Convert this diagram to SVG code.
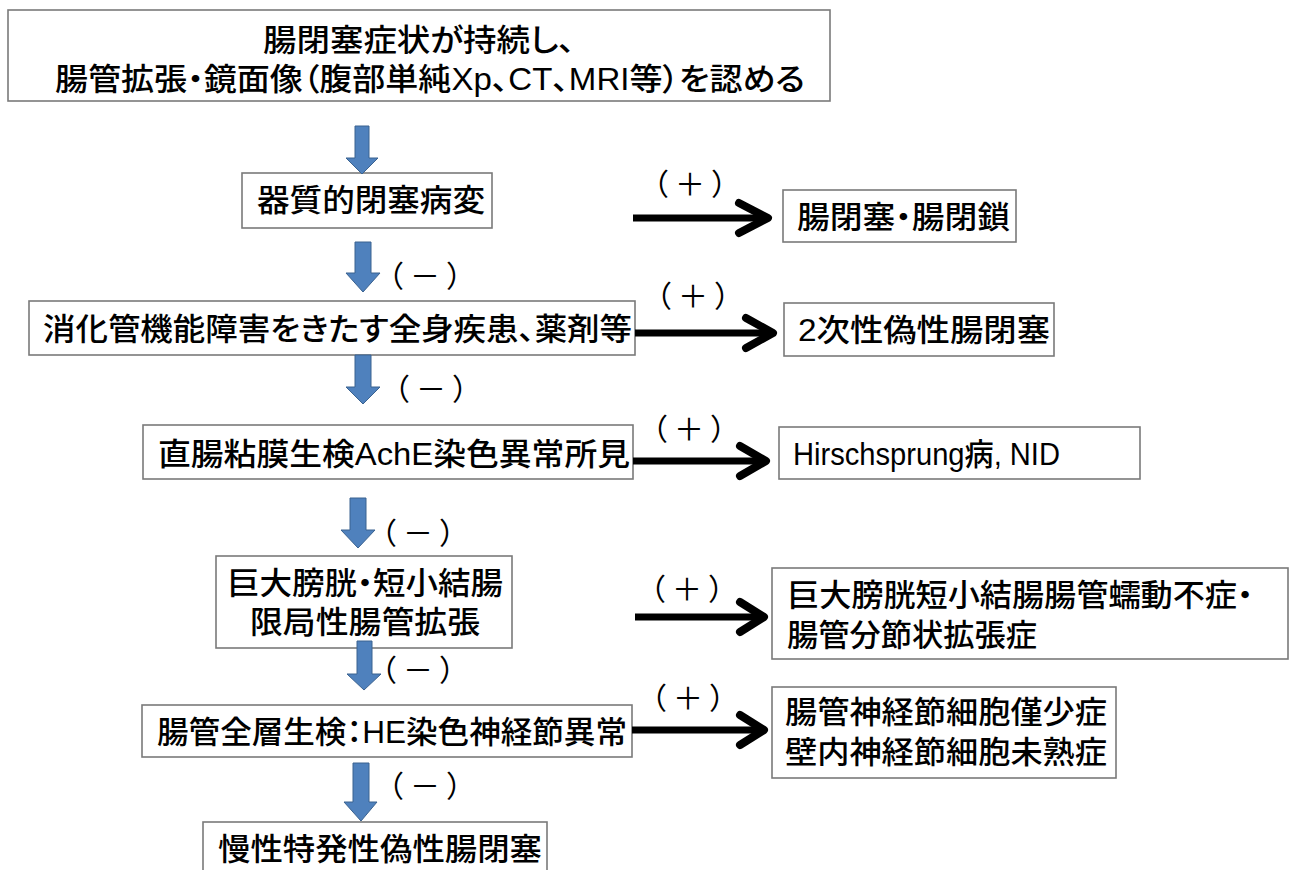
<svg xmlns="http://www.w3.org/2000/svg" width="1289" height="870" viewBox="0 0 1289 870">
<style>
  .box { fill: #ffffff; stroke: #7a7a7a; stroke-width: 1.6; }
  .t { font-family: "Liberation Sans", "Noto Sans CJK JP", sans-serif; font-size: 31px; font-weight: 500; fill: #000000; font-feature-settings: "palt" 1; }
  .lbl { font-family: "Liberation Sans", "Noto Sans CJK JP", sans-serif; font-size: 30px; letter-spacing: 6px; fill: #000000; text-anchor: middle; }
  .blue { fill: #4F81BD; stroke: #3A6290; stroke-width: 1; }
  .shaft { fill: none; stroke: #000000; stroke-width: 7; }
  .head { fill: none; stroke: #000000; stroke-width: 8; stroke-linecap: round; stroke-linejoin: round; }
</style>
<rect width="1289" height="870" fill="#ffffff"/>

<g id="n-start">
  <rect class="box" x="8" y="10" width="822" height="91"/>
  <text class="t" x="263" y="51" textLength="312" lengthAdjust="spacingAndGlyphs">腸閉塞症状が持続し、</text>
  <text class="t" x="55" y="90" textLength="750" lengthAdjust="spacingAndGlyphs">腸管拡張・鏡面像（腹部単純Xp、CT、MRI等）を認める</text>
</g>

<g id="n-organic">
  <rect class="box" x="242" y="173" width="250" height="55"/>
  <text class="t" x="257" y="211" textLength="228" lengthAdjust="spacingAndGlyphs">器質的閉塞病変</text>
</g>

<g id="n-ileus">
  <rect class="box" x="783" y="190" width="233" height="52"/>
  <text class="t" x="797" y="228" textLength="213" lengthAdjust="spacingAndGlyphs">腸閉塞・腸閉鎖</text>
</g>

<g id="n-systemic">
  <rect class="box" x="29" y="301" width="606" height="54"/>
  <text class="t" x="43" y="340" textLength="589" lengthAdjust="spacingAndGlyphs">消化管機能障害をきたす全身疾患、薬剤等</text>
</g>

<g id="n-secondary">
  <rect class="box" x="784" y="303" width="270" height="53"/>
  <text class="t" x="798" y="341" textLength="252" lengthAdjust="spacingAndGlyphs">2次性偽性腸閉塞</text>
</g>

<g id="n-rectal">
  <rect class="box" x="143" y="425" width="490" height="54"/>
  <text class="t" x="158" y="465" textLength="472" lengthAdjust="spacingAndGlyphs">直腸粘膜生検AchE染色異常所見</text>
</g>

<g id="n-hirsch">
  <rect class="box" x="779" y="427" width="361" height="52"/>
  <text class="t" x="793" y="465" font-size="29" font-weight="400" textLength="267" lengthAdjust="spacingAndGlyphs">Hirschsprung病, NID</text>
</g>

<g id="n-megacyst">
  <rect class="box" x="216" y="556" width="296" height="92"/>
  <text class="t" x="365" y="594" text-anchor="middle" textLength="276" lengthAdjust="spacingAndGlyphs">巨大膀胱・短小結腸</text>
  <text class="t" x="365" y="633" text-anchor="middle" textLength="230" lengthAdjust="spacingAndGlyphs">限局性腸管拡張</text>
</g>

<g id="n-mmihs">
  <rect class="box" x="772" y="568" width="516" height="91"/>
  <text class="t" x="787" y="606" textLength="466" lengthAdjust="spacingAndGlyphs">巨大膀胱短小結腸腸管蠕動不症・</text>
  <text class="t" x="787" y="646" textLength="250" lengthAdjust="spacingAndGlyphs">腸管分節状拡張症</text>
</g>

<g id="n-fullthickness">
  <rect class="box" x="142" y="705" width="490" height="52"/>
  <text class="t" x="157" y="743" textLength="470" lengthAdjust="spacingAndGlyphs">腸管全層生検：HE染色神経節異常</text>
</g>

<g id="n-hypogang">
  <rect class="box" x="772" y="687" width="344" height="91"/>
  <text class="t" x="785" y="723" textLength="322" lengthAdjust="spacingAndGlyphs">腸管神経節細胞僅少症</text>
  <text class="t" x="785" y="763" textLength="322" lengthAdjust="spacingAndGlyphs">壁内神経節細胞未熟症</text>
</g>

<g id="n-cipo">
  <rect class="box" x="203" y="822" width="344" height="60"/>
  <text class="t" x="218" y="860" textLength="324" lengthAdjust="spacingAndGlyphs">慢性特発性偽性腸閉塞</text>
</g>

<g id="connectors">
  <!-- blue downward arrows -->
  <polygon class="blue" points="355,126 369,126 369,158 378,158 362,174 346,158 355,158"/>
  <polygon class="blue" points="355,242 371,242 371,273 380,273 363,292 346,273 355,273"/>
  <polygon class="blue" points="355,355 371,355 371,387 380,387 363,404 346,387 355,387"/>
  <polygon class="blue" points="350,498 366,498 366,530 375,530 358,548 341,530 350,530"/>
  <polygon class="blue" points="357,641 372,641 372,674 381,674 364,690 347,674 357,674"/>
  <polygon class="blue" points="353,763 369,763 369,802 377,802 361,821 344,802 353,802"/>
  <text class="lbl" x="428" y="287">（－）</text>
  <text class="lbl" x="434" y="400">（－）</text>
  <text class="lbl" x="421" y="544">（－）</text>
  <text class="lbl" x="421" y="681">（－）</text>
  <text class="lbl" x="428" y="797">（－）</text>

  <!-- black right arrows -->
  <path class="shaft" d="M633 218 H764"/>
  <path class="head" d="M739 203 L768 218 L739 233"/>
  <path class="shaft" d="M635 333 H769"/>
  <path class="head" d="M746 318 L773 333 L746 348"/>
  <path class="shaft" d="M633 461 H762"/>
  <path class="head" d="M740 446 L766 461 L740 476"/>
  <path class="shaft" d="M635 617 H760"/>
  <path class="head" d="M740 602 L764 617 L740 632"/>
  <path class="shaft" d="M632 730 H760"/>
  <path class="head" d="M740 715 L764 730 L740 745"/>
  <text class="lbl" x="693" y="195">（＋）</text>
  <text class="lbl" x="696" y="307">（＋）</text>
  <text class="lbl" x="692" y="440">（＋）</text>
  <text class="lbl" x="690" y="600">（＋）</text>
  <text class="lbl" x="691" y="709">（＋）</text>
</g>
</svg>
